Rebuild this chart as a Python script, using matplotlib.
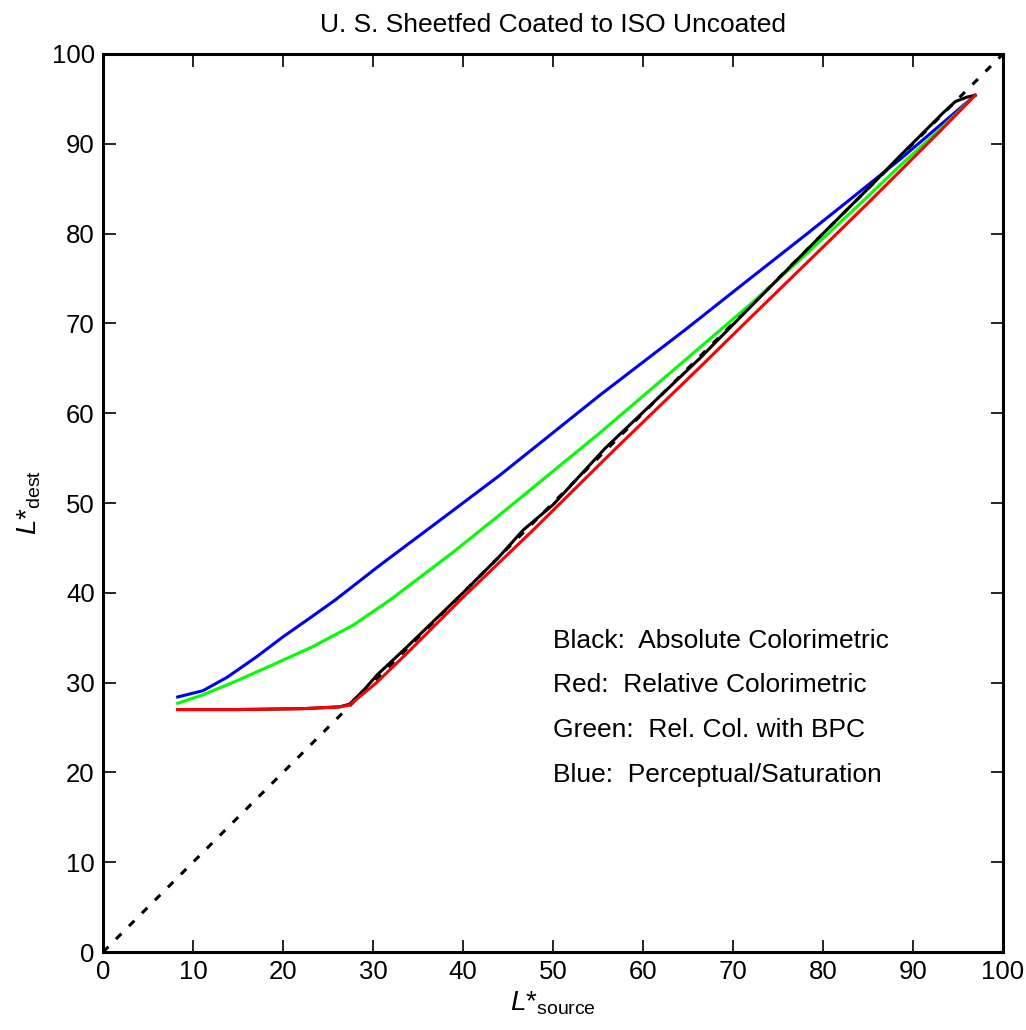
import numpy as np
import matplotlib
matplotlib.use('Agg')
import matplotlib.pyplot as plt

plt.rcParams['font.family'] = ['Liberation Sans', 'DejaVu Sans']
plt.rcParams['mathtext.fontset'] = 'custom'
plt.rcParams['mathtext.rm'] = 'Liberation Sans'
plt.rcParams['mathtext.it'] = 'Liberation Sans:italic'

# L*source -> L*dest values
blue_x = [8.3, 11.1, 13.8, 17.1, 20.0, 23.0, 25.8, 30.8, 38.0, 44.1, 55.2, 64.7, 71.9, 78.0, 83.0, 88.6, 94.1, 96.9]
blue_y = [28.4, 29.1, 30.6, 32.9, 35.1, 37.2, 39.2, 43.1, 48.5, 53.1, 62.0, 69.3, 75.0, 79.8, 83.8, 88.3, 93.0, 95.4]

green_x = [8.3, 11.0, 14.4, 18.9, 23.3, 27.8, 31.9, 39.0, 44.1, 55.2, 66.3, 71.9, 78.0, 84.1, 88.6, 93.0, 96.9]
green_y = [27.7, 28.6, 30.0, 32.0, 34.0, 36.4, 39.2, 44.6, 48.7, 57.8, 67.3, 72.1, 77.6, 83.3, 87.6, 91.6, 95.4]

red_x = [8.3, 15.0, 22.2, 26.3, 27.4, 30.4, 33.8, 40.0, 47.8, 56.9, 66.3, 71.9, 80.0, 84.9, 88.6, 93.0, 96.9]
red_y = [27.0, 27.0, 27.1, 27.3, 27.5, 30.0, 33.3, 39.5, 47.0, 56.0, 65.1, 70.6, 78.5, 83.3, 87.0, 91.4, 95.4]

black_x = [8.3, 15.0, 22.2, 26.3, 27.4, 29.0, 30.5, 33.8, 40.0, 44.0, 46.7, 50.0, 55.8, 66.3, 71.9, 80.0, 84.9, 88.9, 90.4, 93.3, 94.7, 96.0, 96.9]
black_y = [27.0, 27.0, 27.1, 27.3, 27.6, 29.2, 30.9, 34.0, 40.0, 44.0, 47.0, 49.8, 56.1, 66.1, 71.8, 80.0, 84.9, 89.0, 90.5, 93.4, 94.7, 95.2, 95.4]

diag = [0, 100]

labels = ['Black:  Absolute Colorimetric',
          'Red:  Relative Colorimetric',
          'Green:  Rel. Col. with BPC',
          'Blue:  Perceptual/Saturation']
label_y = [33.9, 28.9, 23.9, 18.9]

fig = plt.figure(figsize=(10.26, 10.30), dpi=100)
ax = fig.add_axes([0.1004, 0.0757, 0.8772, 0.8719])

ax.plot(diag, diag, color='k', lw=2.2, dashes=(2.5, 3.5))
ax.plot(blue_x, blue_y, color='#0000ff', lw=2.2)
ax.plot(green_x, green_y, color='#00ff00', lw=2.2)
ax.plot(black_x, black_y, color='k', lw=2.2)
ax.plot(red_x, red_y, color='#ff0000', lw=2.2)

for txt, yy in zip(labels, label_y):
    ax.text(50, yy, txt, fontsize=19, va='baseline', ha='left')

ax.set_xlim(0, 100)
ax.set_ylim(0, 100)
ax.set_xticks(np.arange(0, 101, 10))
ax.set_yticks(np.arange(0, 101, 10))
ax.tick_params(direction='in', length=9, width=1.2, labelsize=18.5,
               top=True, right=True, pad=6)
for s in ax.spines.values():
    s.set_linewidth(2.2)

ax.set_title('U. S. Sheetfed Coated to ISO Uncoated', fontsize=19, pad=16)
ax.set_xlabel(r'$L$*$_{\mathrm{source}}$', fontsize=20, labelpad=4)
ax.set_ylabel(r'$L$*$_{\mathrm{dest}}$', fontsize=20, labelpad=6)

fig.savefig('out.png', dpi=100)
